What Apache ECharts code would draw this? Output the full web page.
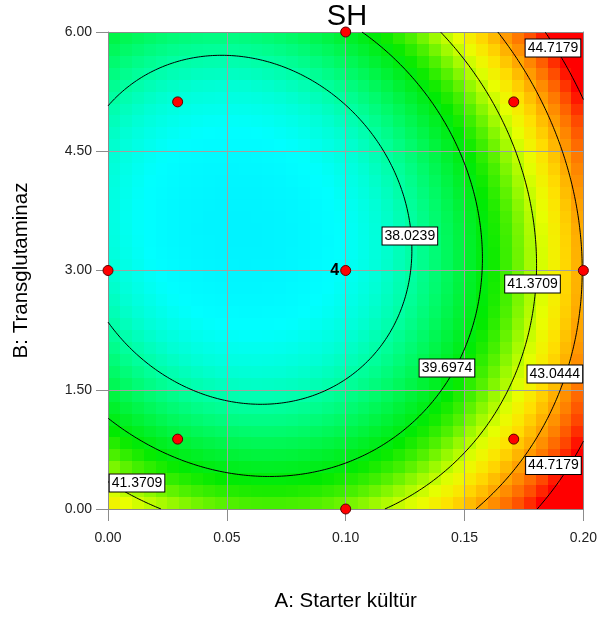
<!DOCTYPE html>
<html>
<head>
<meta charset="utf-8">
<script src="https://cdn.jsdelivr.net/npm/echarts@6/dist/echarts.min.js"></script>
<style>
  html, body { margin: 0; padding: 0; background: #fff; }
  #chart { width: 600px; height: 619px; }
</style>
</head>
<body>
<div id="chart"></div>
<script>
// SH yanıt yüzeyi (A: Starter kültür, B: Transglutaminaz)
const aTicks = [0, 0.05, 0.10, 0.15, 0.20];
const bTicks = [0, 1.5, 3.0, 4.5, 6.0];
const contourLevels = [38.0239, 39.6974, 41.3709, 43.0444, 44.7179];

// quadratic model in coded units: b0, A, B, AB, A^2, B^2
const modelCoef = [37.02, 2.77, -0.754, 0.75, 3.30, 3.174];

// design points
const designA = [0.0, 0.1, 0.1, 0.2, 0.1, 0.0293, 0.0293, 0.1707, 0.1707];
const designB = [3.0, 0.0, 6.0, 3.0, 3.0, 0.879, 5.121, 0.879, 5.121];
const designRuns = [1, 1, 1, 1, 4, 1, 1, 1, 1];

// contour label anchors
const labelText = ['38.0239', '39.6974', '41.3709', '43.0444', '44.7179', '44.7179', '41.3709'];
const labelA = [0.1270, 0.1426, 0.1786, 0.1880, 0.1872, 0.1874, 0.0122];
const labelB = [3.434, 1.774, 2.830, 1.698, 5.799, 0.547, 0.327];

// colour ramp, spread evenly from colorMin to colorMax
const colorMin = 36.3, colorMax = 44.7;
const colorRamp = ['#00f2ff', '#00ffff', '#00ffd4', '#00ff9c', '#00fa64', '#00f230', '#00ea00',
  '#48f000', '#a0fa00', '#e8ff00', '#ffe000', '#ffb000', '#ff8000', '#ff4800', '#ff0000'];

function sh(a, b) {
  const x = (a - 0.1) / 0.1, y = (b - 3) / 3;
  const c = modelCoef;
  return c[0] + c[1] * x + c[2] * y + c[3] * x * y + c[4] * x * x + c[5] * y * y;
}

// heatmap cells
const N = 40;
const dA = 0.2 / N, dB = 6 / N;
const cells = [];
for (let i = 0; i < N; i++) {
  for (let j = 0; j < N; j++) {
    const a = (i + 0.5) * dA, b = (j + 0.5) * dB;
    cells.push([a, b, sh(a, b)]);
  }
}

// contour lines (marching squares on a finer grid)
const M = 200;
const gA = [], gB = [];
for (let i = 0; i <= M; i++) { gA.push(0.2 * i / M); gB.push(6 * i / M); }
const gv = [];
for (let i = 0; i <= M; i++) {
  gv.push([]);
  for (let j = 0; j <= M; j++) gv[i].push(sh(gA[i], gB[j]));
}

function contourSegments(L) {
  const segs = [];
  const hEdge = (i, j) => { const t = (L - gv[i][j]) / (gv[i + 1][j] - gv[i][j]); return [gA[i] + t * (gA[i + 1] - gA[i]), gB[j]]; };
  const vEdge = (i, j) => { const t = (L - gv[i][j]) / (gv[i][j + 1] - gv[i][j]); return [gA[i], gB[j] + t * (gB[j + 1] - gB[j])]; };
  const cross = (p, q) => (p - L) * (q - L) < 0;
  for (let i = 0; i < M; i++) {
    for (let j = 0; j < M; j++) {
      const pts = [];
      if (cross(gv[i][j], gv[i + 1][j])) pts.push(hEdge(i, j));
      if (cross(gv[i + 1][j], gv[i + 1][j + 1])) pts.push(vEdge(i + 1, j));
      if (cross(gv[i][j + 1], gv[i + 1][j + 1])) pts.push(hEdge(i, j + 1));
      if (cross(gv[i][j], gv[i][j + 1])) pts.push(vEdge(i, j));
      if (pts.length >= 2) segs.push([pts[0], pts[1]]);
      if (pts.length === 4) segs.push([pts[2], pts[3]]);
    }
  }
  return segs;
}

function chain(segs) {
  const key = p => p[0].toFixed(9) + ',' + p[1].toFixed(9);
  const adj = new Map();
  segs.forEach((s, idx) => {
    s.forEach(p => {
      const k = key(p);
      if (!adj.has(k)) adj.set(k, []);
      adj.get(k).push(idx);
    });
  });
  const used = new Array(segs.length).fill(false);
  const lines = [];
  for (let i = 0; i < segs.length; i++) {
    if (used[i]) continue;
    used[i] = true;
    const line = [segs[i][0], segs[i][1]];
    for (const dir of [1, -1]) {
      let grow = true;
      while (grow) {
        grow = false;
        const end = dir === 1 ? line[line.length - 1] : line[0];
        const ek = key(end);
        for (const c of (adj.get(ek) || [])) {
          if (used[c]) continue;
          used[c] = true;
          const s = segs[c];
          const other = key(s[0]) === ek ? s[1] : s[0];
          if (dir === 1) line.push(other); else line.unshift(other);
          grow = true;
          break;
        }
      }
    }
    lines.push(line);
  }
  return lines;
}

const contourSeries = [];
contourLevels.forEach(L => {
  chain(contourSegments(L)).forEach(line => {
    contourSeries.push({
      type: 'line',
      data: line,
      showSymbol: false,
      silent: true,
      animation: false,
      clip: true,
      z: 4,
      lineStyle: { color: '#000', width: 1 }
    });
  });
});

const chart = echarts.init(document.getElementById('chart'));

const font = 'Arial, "Liberation Sans", sans-serif';
const axisGray = '#8c8c8c';

chart.setOption({
  animation: false,
  title: {
    text: 'SH',
    left: 342,
    top: -3,
    textAlign: 'center',
    textStyle: { fontFamily: font, fontSize: 29, fontWeight: 'normal', color: '#000' }
  },
  grid: { left: 108, top: 32, width: 477, height: 477 },
  visualMap: {
    show: false,
    type: 'continuous',
    seriesIndex: 0,
    dimension: 2,
    min: colorMin,
    max: colorMax,
    inRange: { color: colorRamp }
  },
  xAxis: [{
    type: 'value',
    min: aTicks[0],
    max: aTicks[aTicks.length - 1],
    interval: 0.05,
    z: 3,
    name: 'A: Starter kültür',
    nameLocation: 'middle',
    nameGap: 82,
    nameTextStyle: { fontFamily: font, fontSize: 20.5, color: '#000' },
    axisLine: { show: true, lineStyle: { color: axisGray } },
    axisTick: { show: true, length: 12, lineStyle: { color: axisGray } },
    axisLabel: { margin: 22, fontFamily: font, fontSize: 14, color: '#222', formatter: v => v.toFixed(2) },
    splitLine: { show: true, lineStyle: { color: '#a0a0a0', width: 1 } }
  }, {
    type: 'value', position: 'top', min: 0, max: 0.2, z: 3,
    axisLine: { show: true, onZero: false, lineStyle: { color: axisGray } },
    axisTick: { show: false }, axisLabel: { show: false }, splitLine: { show: false }
  }],
  yAxis: [{
    type: 'value',
    min: bTicks[0],
    max: bTicks[bTicks.length - 1],
    interval: 1.5,
    z: 3,
    name: 'B: Transglutaminaz',
    nameLocation: 'middle',
    nameRotate: 90,
    nameGap: 76,
    nameTextStyle: { fontFamily: font, fontSize: 20.5, color: '#000' },
    axisLine: { show: true, lineStyle: { color: axisGray } },
    axisTick: { show: true, length: 12, lineStyle: { color: axisGray } },
    axisLabel: { margin: 16, fontFamily: font, fontSize: 14, color: '#222', formatter: v => v.toFixed(2) },
    splitLine: { show: true, lineStyle: { color: '#a0a0a0', width: 1 } }
  }, {
    type: 'value', position: 'right', min: 0, max: 6, z: 3,
    axisLine: { show: true, onZero: false, lineStyle: { color: axisGray } },
    axisTick: { show: false }, axisLabel: { show: false }, splitLine: { show: false }
  }],
  series: [{
    type: 'custom',
    z: 1,
    silent: true,
    data: cells,
    renderItem: (params, api) => {
      const a = api.value(0), b = api.value(1);
      const p0 = api.coord([a - dA / 2, b + dB / 2]);
      const p1 = api.coord([a + dA / 2, b - dB / 2]);
      const x0 = Math.round(p0[0]), y0 = Math.round(p0[1]);
      const x1 = Math.round(p1[0]), y1 = Math.round(p1[1]);
      return {
        type: 'rect',
        shape: { x: x0, y: y0, width: x1 - x0, height: y1 - y0 },
        style: { fill: api.visual('color') }
      };
    }
  },
  ...contourSeries,
  {
    type: 'custom',
    z: 8,
    silent: true,
    clip: true,
    data: labelText.map((t, i) => [labelA[i], labelB[i], i]),
    renderItem: (params, api) => {
      const p = api.coord([api.value(0), api.value(1)]);
      return {
        type: 'text',
        x: p[0],
        y: p[1],
        style: {
          text: labelText[api.value(2)],
          font: '14px ' + font,
          fill: '#000',
          align: 'center',
          verticalAlign: 'middle',
          backgroundColor: '#fff',
          borderColor: '#000',
          borderWidth: 1,
          padding: [2, 2, 1, 2]
        }
      };
    }
  },
  {
    type: 'scatter',
    z: 10,
    clip: false,
    silent: true,
    symbol: 'circle',
    symbolSize: 10,
    itemStyle: { color: '#ff0000', borderColor: '#5a0000', borderWidth: 1, opacity: 1 },
    data: designA.map((a, i) => ({
      value: [a, designB[i]],
      label: designRuns[i] > 1 ? {
        show: true,
        formatter: String(designRuns[i]),
        position: 'left',
        distance: 1,
        fontFamily: font,
        fontSize: 16,
        fontWeight: 'bold',
        color: '#000'
      } : { show: false }
    }))
  }]
});
</script>
</body>
</html>
